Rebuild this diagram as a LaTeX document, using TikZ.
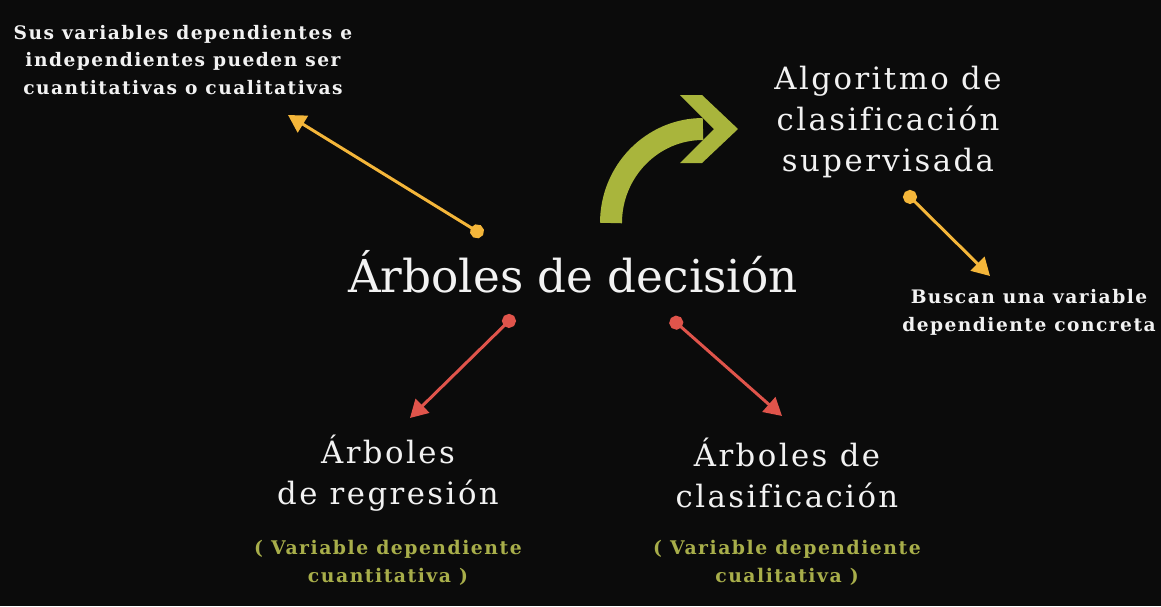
\documentclass[tikz,border=0pt]{standalone}
\usepackage{fontspec}
\setmainfont{DejaVu Serif}
\newfontfamily\spacedfont[LetterSpace=8, Ligatures=NoCommon]{DejaVu Serif}
\newfontfamily\spacedbold[LetterSpace=8, Ligatures=NoCommon]{DejaVu Serif Bold}
\usepackage{tikz}
\usetikzlibrary{arrows.meta, positioning, calc}
\definecolor{bgblack}{HTML}{0B0B0B}
\definecolor{tipyellow}{HTML}{F4B63A}
\definecolor{tipred}{HTML}{E0544B}
\definecolor{bendgreen}{HTML}{A9B53C}
\definecolor{notegreen}{HTML}{A8AE4A}
\definecolor{textwhite}{HTML}{F2F2F2}

\begin{document}
\begin{tikzpicture}[x=0.02cm, y=-0.02cm,
    title/.style={text=textwhite, font=\fontsize{25.8}{30}\selectfont, inner sep=0pt},
    branch/.style={text=textwhite, align=center, font=\spacedfont\fontsize{17.5}{23.3}\selectfont, inner sep=0pt},
    remark/.style={text=textwhite, align=center, font=\spacedbold\fontsize{10.6}{15.9}\selectfont, inner sep=0pt},
    note/.style={text=notegreen, align=center, font=\spacedbold\fontsize{10.7}{15.9}\selectfont, inner sep=0pt},
    yarrow/.style={tipyellow, line width=1.7pt, {Circle[length=8pt]}-{Triangle[length=10pt, width=11pt]}},
    rarrow/.style={tipred, line width=1.7pt, {Circle[length=8pt]}-{Triangle[length=10pt, width=11pt]}}
]
    \fill[bgblack] (0,0) rectangle (1161,606);
    \useasboundingbox (0,0) rectangle (1161,606);

    % Main topic
    \node[title] (main) at (573,272) {Árboles de decisión};

    % Around it
    \node[remark] (vars) at (183,60) {Sus variables dependientes e\\independientes pueden ser\\cuantitativas o cualitativas};
    \node[branch] (algo) at (888,122) {Algoritmo de\\clasificación\\supervisada};
    \node[remark] (dep) at (1029,312) {Buscan una variable\\dependiente concreta};

    % Kinds of trees
    \node[branch] (regr) at (388,473) {Árboles\\de regresión};
    \node[branch] (clas) at (787,473) {Árboles de\\clasificación};
    \node[note] (regrnote) at (388,563) {( Variable dependiente\\cuantitativa )};
    \node[note] (clasnote) at (787,563) {( Variable dependiente\\cualitativa )};

    % Arrow ends
    \coordinate (varsdot) at (483,235);
    \coordinate (varstip) at (288,115);
    \coordinate (algodot) at (905,192);
    \coordinate (algotip) at (990,276);
    \coordinate (regrdot) at (514,316);
    \coordinate (regrtip) at (410,418);
    \coordinate (clasdot) at (671,318);
    \coordinate (clastip) at (782,416);

    \draw[yarrow] (varsdot) -- (varstip);
    \draw[yarrow] (algodot) -- (algotip);
    \draw[rarrow] (regrdot) -- (regrtip);
    \draw[rarrow] (clasdot) -- (clastip);

    % Bent arrow to the definition
    \draw[bendgreen, line width=12.5pt] (611,223) arc[start angle=180, end angle=270, x radius=92, y radius=94];
    \fill[bendgreen] (680,95) -- (702,95) -- (738,129) -- (702,163) -- (680,163) -- (714,129) -- cycle;
\end{tikzpicture}
\end{document}
